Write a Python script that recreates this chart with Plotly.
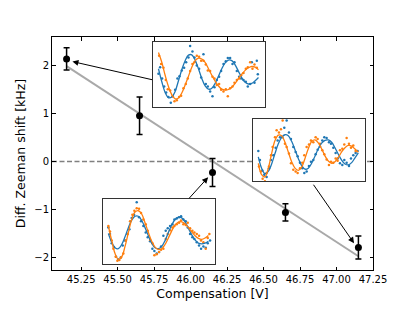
import plotly.graph_objects as go

# ---------------- main data ----------------
comp_v = [45.15, 45.65, 46.15, 46.65, 47.15]
shift_khz = [2.13, 0.95, -0.23, -1.06, -1.79]
shift_err = [0.23, 0.39, 0.29, 0.18, 0.24]

fit_x = [45.15, 47.15]
fit_y = [1.98, -1.97]

x_ticks = [45.25, 45.50, 45.75, 46.00, 46.25, 46.50, 46.75, 47.00, 47.25]
y_ticks = [-2, -1, 0, 1, 2]

# ---------------- inset data (time, signal) ----------------
curve_t = [25, 35, 45, 55, 65, 75, 85, 95, 105, 115, 125, 135, 145, 155, 165,
           175, 185, 195, 205, 215, 225, 235, 245, 255, 265, 275, 285, 295, 305, 315, 325]

# inset A (top, first point)
a_fit_orange = [175, 145, 105, 70, 45, 32, 35, 50, 75, 102, 130, 150, 158, 155, 145,
                125, 105, 87, 72, 62, 59, 61, 68, 80, 95, 108, 120, 128, 132, 130, 122]
a_fit_blue = [125, 85, 52, 36, 38, 55, 88, 122, 150, 167, 168, 152, 125, 95, 72,
              62, 65, 80, 102, 125, 143, 152, 150, 137, 117, 97, 83, 78, 80, 88, 98]
a_pts_orange_t = [27, 33, 40, 47, 53, 60, 67, 73, 80, 87, 93, 100, 107, 113, 120, 127, 133,
                  140, 147, 153, 160, 167, 173, 180, 187, 193, 200, 207, 213, 220, 227, 233,
                  240, 247, 253, 260, 267, 273, 280, 287, 293, 300, 307, 313, 320]
a_pts_orange_s = [165, 140, 128, 90, 62, 58, 40, 25, 28, 38, 42, 65, 78, 95, 118, 140, 145,
                  165, 162, 150, 150, 138, 120, 118, 100, 95, 75, 78, 60, 55, 62, 40,
                  65, 70, 82, 90, 95, 105, 112, 125, 130, 145, 125, 138, 128]
a_pts_blue_t = [25, 30, 36, 42, 48, 55, 62, 68, 75, 82, 88, 95, 102, 108, 115, 120, 127, 133,
                140, 147, 153, 160, 167, 173, 180, 187, 193, 200, 207, 213, 220, 227, 233,
                240, 247, 253, 260, 267, 273, 280, 287, 293, 300, 305, 313, 320, 323]
a_pts_blue_s = [110, 130, 95, 70, 52, 38, 20, 40, 60, 95, 102, 120, 128, 145, 160, 195, 178, 160,
                135, 125, 98, 170, 78, 70, 55, 40, 68, 90, 100, 118, 140, 148, 158,
                158, 140, 145, 118, 100, 95, 90, 85, 70, 78, 145, 82, 150, 108]

# inset B (right, last point)
b_fit_orange = [70, 35, 28, 55, 100, 140, 157, 155, 135, 105, 75, 55, 48, 58, 85,
                115, 137, 142, 133, 115, 93, 77, 70, 75, 88, 105, 118, 125, 123, 114, 104]
b_fit_blue = [90, 55, 38, 45, 68, 100, 130, 150, 158, 155, 138, 112, 85, 63, 52,
              55, 70, 92, 115, 132, 141, 142, 135, 118, 98, 80, 68, 65, 72, 87, 102]
b_pts_orange_t = [27, 33, 38, 45, 50, 57, 63, 68, 75, 80, 87, 93, 98, 105, 110, 117, 123,
                  130, 137, 143, 150, 157, 163, 170, 177, 183, 190, 197, 203, 210, 217, 223,
                  230, 237, 243, 250, 257, 263, 270, 277, 283, 290, 297, 303, 310, 317]
b_pts_orange_s = [60, 45, 22, 15, 40, 60, 95, 120, 150, 172, 165, 175, 202, 130, 120, 100, 70,
                  50, 45, 40, 55, 72, 95, 120, 128, 140, 135, 150, 145, 130, 110, 98,
                  82, 65, 75, 72, 85, 78, 110, 115, 128, 148, 130, 118, 125, 108]
b_pts_blue_t = [25, 30, 37, 43, 50, 57, 63, 70, 77, 83, 90, 97, 103, 110, 117, 123, 130, 137,
                143, 150, 157, 163, 170, 177, 183, 190, 197, 203, 210, 217, 223, 230, 237,
                243, 250, 257, 263, 270, 277, 283, 290, 297, 303, 310, 317, 323]
b_pts_blue_s = [108, 80, 48, 35, 28, 55, 80, 95, 118, 140, 150, 150, 180, 202, 165, 145, 120, 105,
                92, 72, 55, 40, 45, 62, 75, 80, 98, 112, 122, 140, 150, 148, 135,
                130, 118, 102, 85, 70, 65, 80, 72, 62, 85, 95, 102, 108]

# inset C (bottom, middle point)
c_fit_orange = [125, 80, 40, 22, 30, 62, 105, 145, 168, 172, 162, 135, 105, 78, 60,
                53, 55, 68, 88, 110, 128, 137, 138, 132, 120, 107, 95, 87, 84, 88, 96]
c_fit_blue = [102, 75, 58, 55, 68, 92, 120, 143, 155, 155, 142, 120, 95, 72, 58,
              55, 62, 80, 105, 128, 145, 152, 150, 138, 118, 98, 82, 72, 70, 72, 78]
c_pts_orange_t = [25, 30, 35, 40, 47, 52, 58, 63, 70, 77, 83, 90, 97, 103, 110, 117, 123,
                  130, 137, 143, 150, 157, 163, 170, 177, 183, 190, 197, 203, 210, 217, 223,
                  230, 237, 243, 250, 257, 263, 270, 277, 283, 290, 297, 303, 310, 317, 323, 328]
c_pts_orange_s = [125, 108, 80, 55, 30, 18, 20, 28, 40, 80, 100, 140, 160, 172, 180, 178, 165,
                  145, 130, 110, 82, 72, 35, 38, 45, 52, 55, 85, 100, 112, 120, 125,
                  130, 135, 142, 130, 128, 135, 118, 110, 105, 100, 95, 80, 75, 55, 88, 100]
c_pts_blue_t = [25, 30, 35, 42, 48, 55, 62, 68, 75, 82, 88, 95, 102, 110, 117, 123, 130, 137,
                143, 150, 157, 163, 170, 177, 183, 190, 197, 203, 210, 217, 223, 230, 237,
                243, 250, 257, 263, 270, 277, 283, 290, 297, 303, 310, 317, 323, 330]
c_pts_blue_s = [120, 100, 72, 60, 30, 22, 28, 65, 80, 100, 115, 150, 160, 198, 152, 140, 125, 105,
                90, 78, 55, 48, 40, 45, 62, 95, 110, 118, 125, 130, 145, 148, 152,
                155, 145, 140, 120, 100, 90, 85, 75, 65, 55, 62, 58, 72, 80]

BLUE = "#1f77b4"
ORANGE = "#ff7f0e"

fig = go.Figure()

# main plot
fig.add_trace(go.Scatter(x=fit_x, y=fit_y, mode="lines",
                         line=dict(color="#a9a9a9", width=2), hoverinfo="skip",
                         xaxis="x", yaxis="y", showlegend=False))
fig.add_trace(go.Scatter(x=comp_v, y=shift_khz, mode="markers",
                         marker=dict(color="black", size=7),
                         error_y=dict(type="data", array=shift_err, color="black",
                                      thickness=1.5, width=3),
                         xaxis="x", yaxis="y", showlegend=False))

insets = [
    ("2", a_fit_blue, a_fit_orange, a_pts_blue_t, a_pts_blue_s, a_pts_orange_t, a_pts_orange_s),
    ("3", b_fit_blue, b_fit_orange, b_pts_blue_t, b_pts_blue_s, b_pts_orange_t, b_pts_orange_s),
    ("4", c_fit_blue, c_fit_orange, c_pts_blue_t, c_pts_blue_s, c_pts_orange_t, c_pts_orange_s),
]
for k, fb, fo, bt, bs, ot, os_ in insets:
    xa, ya = "x" + k, "y" + k
    fig.add_trace(go.Scatter(x=bt, y=bs, mode="markers", marker=dict(color=BLUE, size=2.5),
                             xaxis=xa, yaxis=ya, showlegend=False, hoverinfo="skip"))
    fig.add_trace(go.Scatter(x=ot, y=os_, mode="markers", marker=dict(color=ORANGE, size=2.5),
                             xaxis=xa, yaxis=ya, showlegend=False, hoverinfo="skip"))
    fig.add_trace(go.Scatter(x=curve_t, y=fb, mode="lines", line=dict(color=BLUE, width=1.3, shape="spline"),
                             xaxis=xa, yaxis=ya, showlegend=False, hoverinfo="skip"))
    fig.add_trace(go.Scatter(x=curve_t, y=fo, mode="lines", line=dict(color=ORANGE, width=1.3, shape="spline"),
                             xaxis=xa, yaxis=ya, showlegend=False, hoverinfo="skip"))

FONT = "DejaVu Sans"
main_ax = dict(showline=True, linecolor="black", linewidth=1, mirror="allticks",
               ticks="inside", ticklen=3.5, tickwidth=1, tickcolor="black",
               showgrid=False, zeroline=False, tickfont=dict(family=FONT, size=10, color="black"))

inset_ax = dict(showline=True, linecolor="#333333", linewidth=1, mirror=True,
                showticklabels=False, ticks="", showgrid=False, zeroline=False, fixedrange=True)

fig.update_layout(
    width=407, height=303, autosize=False,
    margin=dict(l=44, r=42, t=29, b=34),
    paper_bgcolor="white", plot_bgcolor="white",
    font=dict(family=FONT, color="black"),
    xaxis=dict(range=[45.05, 47.25], tickvals=x_ticks,
               ticktext=[f"{v:.2f}" for v in x_ticks],
               title=dict(text="Compensation [V]", font=dict(size=12.5), standoff=5),
               **main_ax),
    yaxis=dict(range=[-2.256, 2.585], tickvals=y_ticks,
               ticktext=[str(v).replace("-", "\u2212") for v in y_ticks],
               title=dict(text="Diff. Zeeman shift [kHz]", font=dict(size=12.5), standoff=5),
               **main_ax),
    xaxis2=dict(domain=[0.314, 0.664], anchor="y2", range=[8, 345], **inset_ax),
    yaxis2=dict(domain=[0.701, 0.979], anchor="x2", range=[8, 208], **inset_ax),
    xaxis3=dict(domain=[0.625, 0.975], anchor="y3", range=[8, 345], **inset_ax),
    yaxis3=dict(domain=[0.380, 0.650], anchor="x3", range=[14, 208], **inset_ax),
    xaxis4=dict(domain=[0.160, 0.508], anchor="y4", range=[10, 345], **inset_ax),
    yaxis4=dict(domain=[0.026, 0.303], anchor="x4", range=[8, 207], **inset_ax),
    shapes=[dict(type="line", xref="x domain", yref="y", x0=0, x1=1, y0=0, y1=0,
                 line=dict(color="#808080", width=1.5, dash="5px,2.5px"), layer="below")],
)

# arrows from insets to the data points (head near point, tail at inset edge)
arrows = [
    (0, 0.04, -0.055, 45.746, 1.691),
    (4, -0.03, 0.09, 46.835, -0.453),
    (2, -0.03, -0.10, 45.981, -0.796),
]
for i, dx, dy, tx, ty in arrows:
    fig.add_annotation(x=comp_v[i] + dx, y=shift_khz[i] + dy, ax=tx, ay=ty,
                       xref="x", yref="y", axref="x", ayref="y", text="",
                       showarrow=True, arrowhead=2, arrowsize=1.2, arrowwidth=1,
                       arrowcolor="black")

fig.write_html("out.html")
